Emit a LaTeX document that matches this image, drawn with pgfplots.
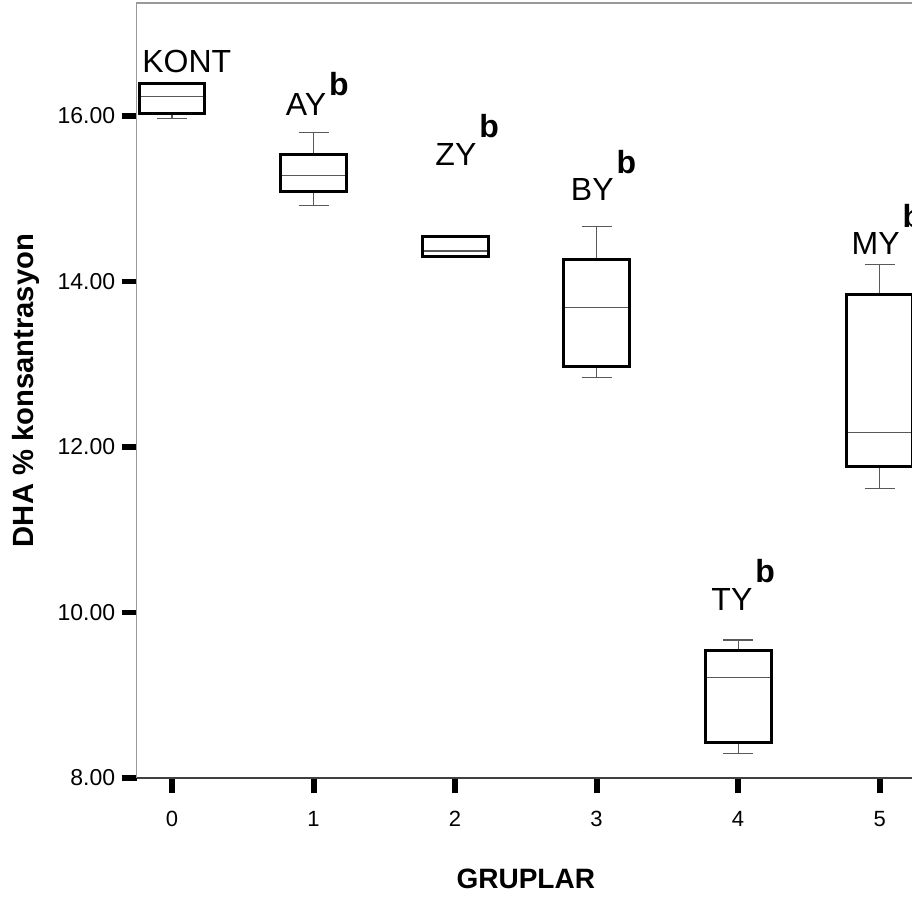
\documentclass[border=0pt]{standalone}
\usepackage{fontspec}
\setmainfont{Liberation Sans}
\usepackage{pgfplots}
\pgfplotsset{compat=1.18}
\newcommand{\lbl}[2]{#1\hspace{1.5pt}\raisebox{#2}{\bfseries b}}
\begin{document}
\begin{tikzpicture}
\begin{axis}[
  scale only axis, width=389.2pt, height=387.5pt,
  xmin=-0.25, xmax=5.25, ymin=8, ymax=17.366,
  clip=false,
  axis line style={draw=none},
  xtick={0,1,2,3,4,5}, ytick={8,10,12,14,16},
  tick pos=left, tick align=outside,
  major tick length=7.5pt,
  xtick style={black, line width=3pt},
  ytick style={black, line width=2.6pt},
  /pgf/number format/assume math mode=true,
  yticklabel={\pgfmathprintnumber[fixed, fixed zerofill, precision=2]{\tick}},
  y tick label style={font=\fontsize{11.5}{13}\selectfont, inner sep=3pt},
  x tick label style={font=\fontsize{11}{13}\selectfont, yshift=-5.4pt},
  xlabel={GRUPLAR},
  ylabel={DHA \% konsantrasyon},
  xlabel style={at={(axis description cs:0.5,-0.1432)}, anchor=base, font=\bfseries\fontsize{14}{16}\selectfont},
  ylabel style={at={(axis description cs:-0.1426,0.5)}, anchor=center, font=\bfseries\fontsize{14.6}{16}\selectfont},
  thin/.style={black!65, line width=0.55pt, mark=none},
  boxs/.style={black, line width=1.5pt, mark=none},
]
\draw[black!40, line width=0.55pt] (rel axis cs:0,0) -- (rel axis cs:0,1) -- (rel axis cs:1,1);
\draw[black!75, line width=0.6pt] (rel axis cs:0,0) -- (rel axis cs:1,0);
\coordinate (NW) at (rel axis cs:0,1);
\coordinate (SE) at (rel axis cs:1,0);

% KONT (0): lw 15.972, q1 16.033, med 16.233, q3 16.395, uw 16.395
\addplot[thin] coordinates {(0,16.033) (0,15.972)};
\addplot[thin] coordinates {(-0.106,15.972) (0.106,15.972)};
\addplot[thin] coordinates {(-0.233,16.233) (0.233,16.233)};
\addplot[boxs] coordinates {(-0.233,16.033) (0.233,16.033) (0.233,16.395) (-0.233,16.395)} -- cycle;

% AY (1): lw 14.924, q1 15.085, med 15.279, q3 15.541, uw 15.803
\addplot[thin] coordinates {(1,15.085) (1,14.924)};
\addplot[thin] coordinates {(0.894,14.924) (1.106,14.924)};
\addplot[thin] coordinates {(1,15.541) (1,15.803)};
\addplot[thin] coordinates {(0.894,15.803) (1.106,15.803)};
\addplot[thin] coordinates {(0.767,15.279) (1.233,15.279)};
\addplot[boxs] coordinates {(0.767,15.085) (1.233,15.085) (1.233,15.541) (0.767,15.541)} -- cycle;

% ZY (2): q1 14.300, med 14.369, q3 14.541
\addplot[thin] coordinates {(1.767,14.369) (2.233,14.369)};
\addplot[boxs] coordinates {(1.767,14.300) (2.233,14.300) (2.233,14.541) (1.767,14.541)} -- cycle;

% BY (3): lw 12.838, q1 12.971, med 13.684, q3 14.272, uw 14.662
\addplot[thin] coordinates {(3,12.971) (3,12.838)};
\addplot[thin] coordinates {(2.894,12.838) (3.106,12.838)};
\addplot[thin] coordinates {(3,14.272) (3,14.662)};
\addplot[thin] coordinates {(2.894,14.662) (3.106,14.662)};
\addplot[thin] coordinates {(2.767,13.684) (3.233,13.684)};
\addplot[boxs] coordinates {(2.767,12.971) (3.233,12.971) (3.233,14.272) (2.767,14.272)} -- cycle;

% TY (4): lw 8.298, q1 8.431, med 9.212, q3 9.547, uw 9.668
\addplot[thin] coordinates {(4,8.431) (4,8.298)};
\addplot[thin] coordinates {(3.894,8.298) (4.106,8.298)};
\addplot[thin] coordinates {(4,9.547) (4,9.668)};
\addplot[thin] coordinates {(3.894,9.668) (4.106,9.668)};
\addplot[thin] coordinates {(3.767,9.212) (4.233,9.212)};
\addplot[boxs] coordinates {(3.767,8.431) (4.233,8.431) (4.233,9.547) (3.767,9.547)} -- cycle;

% MY (5): lw 11.501, q1 11.762, med 12.178, q3 13.845, uw 14.208
\addplot[thin] coordinates {(5,11.762) (5,11.501)};
\addplot[thin] coordinates {(4.894,11.501) (5.106,11.501)};
\addplot[thin] coordinates {(5,13.845) (5,14.208)};
\addplot[thin] coordinates {(4.894,14.208) (5.106,14.208)};
\addplot[thin] coordinates {(4.767,12.178) (5.233,12.178)};
\addplot[boxs] coordinates {(4.767,11.762) (5.233,11.762) (5.233,13.845) (4.767,13.845)} -- cycle;

\begin{scope}[every node/.style={anchor=base west, inner sep=0pt, font=\fontsize{16}{19}\selectfont}]
\node at (axis cs:-0.212,16.523) {KONT};
\node at (axis cs:0.802,16.012) {\lbl{AY}{10pt}};
\node at (axis cs:1.859,15.408) {\lbl{ZY}{14pt}};
\node at (axis cs:2.816,14.985) {\lbl{BY}{13.5pt}};
\node at (axis cs:3.809,10.022) {\lbl{TY}{14pt}};
\node at (axis cs:4.800,14.332) {\lbl{MY}{13.5pt}};
\end{scope}
\end{axis}
\pgfresetboundingbox
\path ([xshift=-68.3pt, yshift=1.5pt]NW) rectangle ([xshift=-1.5pt, yshift=-60.5pt]SE);
\end{tikzpicture}
\end{document}
